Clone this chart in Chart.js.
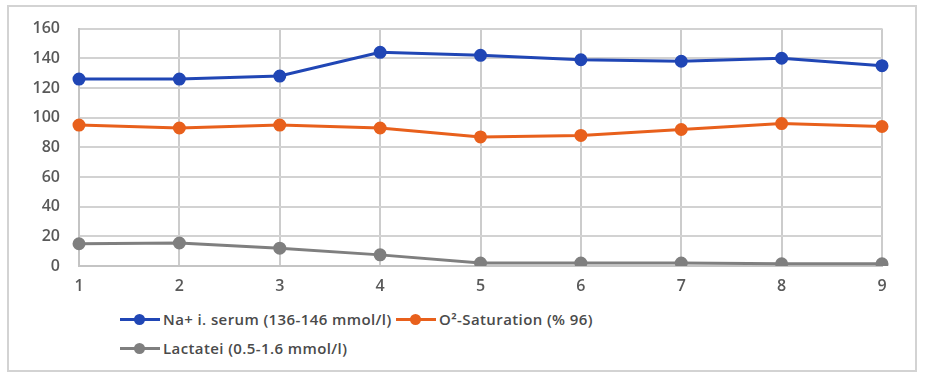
<!DOCTYPE html>
<html>
<head>
<meta charset="utf-8">
<script src="https://cdn.jsdelivr.net/npm/chart.js@4"></script>
<style>
  html, body { margin: 0; padding: 0; background: #fff; }
  body { width: 926px; height: 392px; position: relative; overflow: hidden; font-family: "Open Sans", "Noto Sans", sans-serif; }
  .frame { position: absolute; left: 7px; top: 5px; width: 906px; height: 363px; border: 2px solid #d3d3d3; }
  #wrap { position: absolute; left: 0; top: 0; width: 926px; height: 300px; }
  .legend { position: absolute; font-size: 15px; font-weight: 600; color: #4a4a4a; letter-spacing: 0.4px; line-height: 20px; }
  .item { position: absolute; white-space: nowrap; display: flex; align-items: center; }
  .sym { position: relative; width: 40px; height: 12px; margin-right: 3px; }
  .sym .ln { position: absolute; left: 0; right: 0; top: 5px; height: 3px; }
  .sym .dot { position: absolute; left: 14px; top: 1px; width: 11px; height: 11px; border-radius: 50%; }
</style>
</head>
<body>
<div class="frame"></div>
<div id="wrap"><canvas id="lineChart"></canvas></div>
<div id="legend" class="legend"></div>
<script>
const labels = ['1', '2', '3', '4', '5', '6', '7', '8', '9'];
const sodium = [126, 126, 128, 144, 142, 139, 138, 140, 135];
const oxygen = [95, 93, 95, 93, 87, 88, 92, 96, 94];
const lactate = [15, 15.5, 12, 7.5, 2, 2, 2, 1.5, 1.5];
const seriesNames = ['Na+ i. serum (136-146 mmol/l)', 'O²-Saturation (% 96)', 'Lactatei (0.5-1.6 mmol/l)'];
const seriesColors = ['#2046b5', '#e8601c', '#7f7f7f'];
const yTicks = [0, 20, 40, 60, 80, 100, 120, 140, 160];

function makeSet(name, values, color) {
    return {
        label: name,
        data: values,
        borderColor: color,
        backgroundColor: color,
        borderWidth: 3,
        pointRadius: 5,
        pointHoverRadius: 5,
        tension: 0
    };
}

const tickFont = { size: 16, weight: '600', family: '"Open Sans", sans-serif' };

const canvas = document.getElementById('lineChart');
new Chart(canvas.getContext('2d'), {
    type: 'line',
    data: {
        labels: labels,
        datasets: [
            makeSet(seriesNames[0], sodium, seriesColors[0]),
            makeSet(seriesNames[1], oxygen, seriesColors[1]),
            makeSet(seriesNames[2], lactate, seriesColors[2])
        ]
    },
    options: {
        responsive: true,
        maintainAspectRatio: false,
        animation: false,
        layout: { padding: { left: 20, right: 44, top: 25, bottom: 0 } },
        plugins: {
            legend: { display: false },
            tooltip: { enabled: false }
        },
        scales: {
            x: {
                offset: false,
                grid: { color: '#cccccc', lineWidth: 2, drawTicks: false },
                border: { color: '#c4c4c4', width: 2 },
                ticks: { color: '#595959', font: tickFont, padding: 11, maxRotation: 0 },
                afterFit: scale => { scale.height = 34; }
            },
            y: {
                min: 0,
                max: 160,
                afterBuildTicks: scale => { scale.ticks = yTicks.map(v => ({ value: v })); },
                grid: { color: '#d2d2d2', lineWidth: 2, drawTicks: false },
                border: { color: '#c4c4c4', width: 2 },
                ticks: { color: '#595959', font: tickFont, padding: 19 },
                afterFit: scale => { scale.width = 59; }
            }
        }
    }
});

// legend like the spreadsheet one: line with a dot
const legend = document.getElementById('legend');
const legendPos = [[120, 309], [396, 309], [120, 338]];
seriesNames.forEach((name, i) => {
    const item = document.createElement('div');
    item.className = 'item';
    item.style.left = legendPos[i][0] + 'px';
    item.style.top = legendPos[i][1] + 'px';
    item.innerHTML = '<span class="sym"><span class="ln" style="background:' + seriesColors[i] +
        '"></span><span class="dot" style="background:' + seriesColors[i] + '"></span></span>';
    const txt = document.createElement('span');
    txt.textContent = name;
    item.appendChild(txt);
    legend.appendChild(item);
});
</script>
</body>
</html>
